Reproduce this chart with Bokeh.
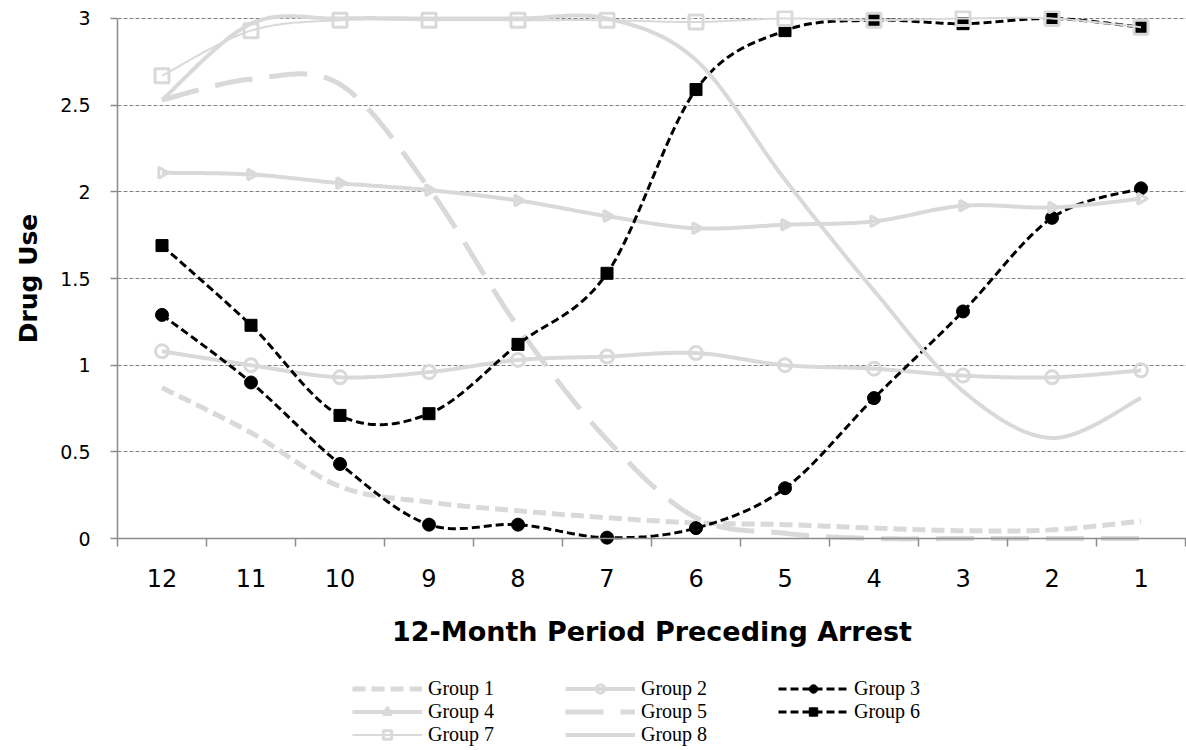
import numpy as np
from bokeh.plotting import figure
from bokeh.layouts import column
from bokeh.models import Range1d, FixedTicker, Legend, LegendItem, Span
from bokeh.embed import file_html
from bokeh.resources import INLINE

# ---------------- data ----------------
months = ["12", "11", "10", "9", "8", "7", "6", "5", "4", "3", "2", "1"]
group1 = [0.87, 0.61, 0.30, 0.21, 0.16, 0.12, 0.09, 0.08, 0.06, 0.045, 0.05, 0.10]
group2 = [1.08, 1.00, 0.93, 0.96, 1.03, 1.05, 1.07, 1.00, 0.98, 0.94, 0.93, 0.97]
group3 = [1.29, 0.90, 0.43, 0.08, 0.08, 0.005, 0.06, 0.29, 0.81, 1.31, 1.85, 2.02]
group4 = [2.11, 2.10, 2.05, 2.01, 1.95, 1.86, 1.79, 1.81, 1.83, 1.92, 1.91, 1.96]
group5 = [2.53, 2.65, 2.62, 2.02, 1.22, 0.57, 0.12, 0.03, 0.0, 0.0, 0.0, 0.0]
group6 = [1.69, 1.23, 0.71, 0.72, 1.12, 1.53, 2.59, 2.93, 2.99, 2.97, 3.00, 2.95]
group7 = [2.67, 2.93, 2.99, 2.99, 2.99, 2.99, 2.98, 3.00, 2.99, 3.00, 3.00, 2.95]
group8 = [2.53, 2.97, 3.00, 3.00, 3.00, 3.00, 2.76, 2.07, 1.43, 0.85, 0.58, 0.81]
y_ticks = [0, 0.5, 1, 1.5, 2, 2.5, 3]
y_tick_labels = ["0", "0.5", "1", "1.5", "2", "2.5", "3"]

idx = list(range(len(months)))


def smooth(ys, n=30):
    """Excel-like smoothed line (Catmull-Rom Bezier) through the data points."""
    x = np.arange(len(ys), dtype=float)
    y = np.asarray(ys, dtype=float)
    last = len(y) - 1
    xs_out, ys_out = [], []
    for i in range(last):
        p0 = max(i - 1, 0)
        p3 = min(i + 2, last)
        c1x = x[i] + (x[i + 1] - x[p0]) / 6.0
        c1y = y[i] + (y[i + 1] - y[p0]) / 6.0
        c2x = x[i + 1] - (x[p3] - x[i]) / 6.0
        c2y = y[i + 1] - (y[p3] - y[i]) / 6.0
        t = np.linspace(0, 1, n, endpoint=(i == last - 1))
        a, b, c, d = (1 - t) ** 3, 3 * (1 - t) ** 2 * t, 3 * (1 - t) * t ** 2, t ** 3
        xs_out.extend(a * x[i] + b * c1x + c * c2x + d * x[i + 1])
        ys_out.extend(a * y[i] + b * c1y + c * c2y + d * y[i + 1])
    return list(xs_out), list(ys_out)


LIGHT = "#d9d9d9"
AXIS = "#8c8c8c"

p = figure(width=1186, height=672,
           x_range=Range1d(-0.5, 11.511), y_range=Range1d(-0.04615, 3.04615),
           output_backend="svg", toolbar_location=None,
           min_border_left=117, min_border_right=0,
           min_border_top=10, min_border_bottom=126)
p.outline_line_color = None
p.background_fill_color = "white"
p.border_fill_color = "white"

# ---------------- grid ----------------
p.xgrid.visible = False
p.ygrid.ticker = FixedTicker(ticks=y_ticks[1:])
p.ygrid.grid_line_color = "#808080"
p.ygrid.grid_line_dash = "4 2"
p.ygrid.grid_line_width = 1

# ---------------- axes ----------------
yax = p.yaxis[0]
yax.ticker = FixedTicker(ticks=y_ticks)
yax.major_label_overrides = {t: l for t, l in zip(y_ticks, y_tick_labels)}
yax.bounds = (0, 3)
yax.axis_line_color = AXIS
yax.axis_line_width = 1.5
yax.major_tick_line_color = AXIS
yax.major_tick_line_width = 1.5
yax.major_tick_out = 7
yax.major_tick_in = 0
yax.minor_tick_line_color = None
yax.major_label_text_font = "DejaVu Sans"
yax.major_label_text_font_size = "19px"
yax.major_label_text_color = "#000000"
yax.major_label_standoff = 20
yax.axis_label = "Drug Use"
yax.axis_label_text_font = "DejaVu Sans"
yax.axis_label_text_font_style = "bold"
yax.axis_label_text_font_size = "25px"
yax.axis_label_text_color = "#000000"
yax.axis_label_standoff = 14

xax = p.xaxis[0]
xax.ticker = FixedTicker(ticks=idx, minor_ticks=[i - 0.5 for i in range(len(months) + 1)])
xax.major_label_overrides = {i: m for i, m in zip(idx, months)}
xax.axis_line_color = None
xax.major_tick_line_color = None
xax.major_tick_out = 0
xax.major_tick_in = 0
xax.minor_tick_line_color = AXIS
xax.minor_tick_line_width = 1.5
xax.minor_tick_out = 0
xax.minor_tick_in = 8
xax.major_label_text_font = "DejaVu Sans"
xax.major_label_text_font_size = "24px"
xax.major_label_text_color = "#000000"
xax.major_label_standoff = 22
xax.axis_label = "12-Month Period Preceding Arrest"
xax.axis_label_text_font = "DejaVu Sans"
xax.axis_label_text_font_style = "bold"
xax.axis_label_text_font_size = "27px"
xax.axis_label_text_color = "#000000"
xax.axis_label_standoff = 26

# x-axis line at value 0
p.add_layout(Span(location=0, dimension="width", line_color=AXIS, line_width=1.5))

# ---------------- series ----------------
styles = [
    dict(name="Group 1", data=group1, line=dict(line_color=LIGHT, line_width=5, line_dash="13 6"), marker=None),
    dict(name="Group 2", data=group2, line=dict(line_color=LIGHT, line_width=4),
         marker=dict(marker="circle", size=13, line_color=LIGHT, line_width=3, fill_alpha=0)),
    dict(name="Group 3", data=group3, line=dict(line_color="black", line_width=3, line_dash="8 4"),
         marker=dict(marker="circle", size=13, line_color="black", fill_color="black")),
    dict(name="Group 4", data=group4, line=dict(line_color=LIGHT, line_width=4),
         marker=dict(marker="triangle", size=11, angle=-np.pi / 2, line_color=LIGHT, line_width=3, fill_alpha=0)),
    dict(name="Group 5", data=group5, line=dict(line_color=LIGHT, line_width=5, line_dash="38 17"), marker=None),
    dict(name="Group 6", data=group6, line=dict(line_color="black", line_width=3, line_dash="8 4"),
         marker=dict(marker="square", size=12, line_color="black", fill_color="black")),
    dict(name="Group 7", data=group7, line=dict(line_color=LIGHT, line_width=2),
         marker=dict(marker="square", size=14, line_color=LIGHT, line_width=3, fill_alpha=0)),
    dict(name="Group 8", data=group8, line=dict(line_color=LIGHT, line_width=4), marker=None),
]

# legend strip (its own small figure; its legend renderers hold a single NaN point)
pl = figure(width=1186, height=78, x_range=Range1d(0, 1), y_range=Range1d(0, 1),
            output_backend="svg", toolbar_location=None,
            min_border_left=0, min_border_right=0, min_border_top=0, min_border_bottom=0)
pl.axis.visible = False
pl.grid.visible = False
pl.outline_line_color = None
pl.border_fill_color = "white"

nan = np.array([np.nan])
items = []
for s in styles:
    sx, sy = smooth(s["data"])
    p.line(sx, sy, **s["line"])
    if s["marker"] is not None:
        p.scatter(idx, s["data"], **s["marker"])
    rends = [pl.line(nan, nan, **s["line"])]
    if s["marker"] is not None:
        rends.append(pl.scatter(nan, nan, **s["marker"]))
    items.append(LegendItem(label=s["name"], renderers=rends))

legend = Legend(items=items, location=(235, 4), orientation="horizontal", ncols=3,
                glyph_width=70, glyph_height=21, label_height=21, label_width=137,
                label_standoff=6, spacing=0, padding=0, margin=0,
                border_line_alpha=0, background_fill_alpha=0,
                label_text_font="Liberation Serif", label_text_font_size="20px",
                label_text_line_height=1.0,
                label_text_color="#000000")
pl.add_layout(legend, "center")

layout = column(p, pl, spacing=0)
open("out.html", "w").write(file_html(layout, INLINE))
